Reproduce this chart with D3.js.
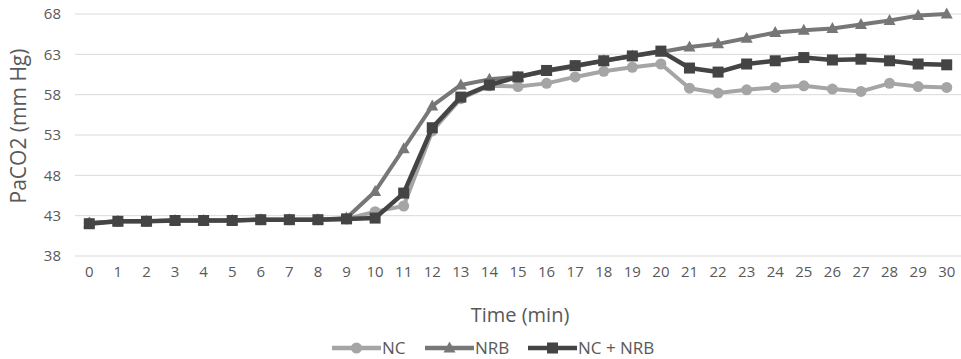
<!DOCTYPE html>
<html><head><meta charset="utf-8">
<script src="https://cdn.jsdelivr.net/npm/d3@7"></script>
<style>body{margin:0;background:#fff;}svg{display:block;font-family:"Open Sans",sans-serif;}</style>
</head><body><svg id="c" width="961" height="359"></svg>
<script>
const times = d3.range(0,31).map(String);
const yTicks = [38,43,48,53,58,63,68];
const seriesNames = ["NC","NRB","NC + NRB"];
const ncValues = [42.1,42.3,42.3,42.4,42.4,42.4,42.5,42.5,42.5,42.6,43.5,44.2,53.5,57.5,59.1,59.0,59.4,60.2,60.9,61.4,61.8,58.8,58.2,58.6,58.9,59.1,58.7,58.4,59.4,59.0,58.9];
const nrbValues = [42.1,42.3,42.3,42.4,42.4,42.4,42.5,42.5,42.5,42.7,46.0,51.3,56.6,59.2,59.9,60.2,60.9,61.5,62.2,62.8,63.3,63.9,64.3,65.0,65.7,66.0,66.2,66.7,67.2,67.8,68.0];
const ncNrbValues = [42.0,42.3,42.3,42.4,42.4,42.4,42.5,42.5,42.5,42.6,42.7,45.8,53.9,57.7,59.2,60.2,61.0,61.6,62.2,62.8,63.4,61.3,60.8,61.8,62.2,62.6,62.3,62.4,62.2,61.8,61.7];
const colors = ["#a5a5a5","#777777","#444444"];
const shapes = ["circle","triangle","square"];

const svg = d3.select("#c");
const x = d3.scaleBand().domain(times).range([75,961]);
const y = d3.scaleLinear().domain([38,68]).range([256,14]);
const cx = d => x(d)+x.bandwidth()/2;

// gridlines
svg.append("g").selectAll("line").data(yTicks).join("line")
  .attr("x1",75).attr("x2",961).attr("y1",d=>y(d)).attr("y2",d=>y(d))
  .attr("stroke","#d9d9d9").attr("stroke-width",1);

// y axis labels
const ya = svg.append("g").attr("transform","translate(75,0)")
  .call(d3.axisLeft(y).tickValues(yTicks).tickSize(0).tickPadding(14));
ya.select(".domain").remove();
ya.selectAll("text").attr("fill","#595959").style("font-size","15px").style("font-family","'Open Sans',sans-serif");

// x axis labels
const xa = svg.append("g").attr("transform","translate(0,256)")
  .call(d3.axisBottom(x).tickSize(0).tickPadding(10));
xa.select(".domain").remove();
xa.selectAll("text").attr("fill","#595959").style("font-size","15px").style("font-family","'Open Sans',sans-serif");

// titles
svg.append("text").attr("x",520).attr("y",322).attr("text-anchor","middle")
  .attr("fill","#595959").style("font-size","20px").text("Time (min)");
svg.append("text").attr("transform","translate(26,126) rotate(-90)").attr("text-anchor","middle")
  .attr("fill","#595959").style("font-size","21px").text("PaCO2 (mm Hg)");

function drawMarker(g, shape, px, py, color, s){
  if(shape==="circle") g.append("circle").attr("cx",px).attr("cy",py).attr("r",5.5*s).attr("fill",color);
  else if(shape==="square") g.append("rect").attr("x",px-5.5*s).attr("y",py-5.5*s).attr("width",11*s).attr("height",11*s).attr("fill",color);
  else g.append("path").attr("d",`M${px},${py-6.5*s}L${px+6*s},${py+4.5*s}L${px-6*s},${py+4.5*s}Z`).attr("fill",color);
}

const allSeries = [ncValues, nrbValues, ncNrbValues];
const widths = [4,4,4.5];
const line = d3.line().x((d,i)=>cx(times[i])).y(d=>y(d));
allSeries.forEach((vals,k)=>{
  const g = svg.append("g");
  g.append("path").datum(vals).attr("d",line).attr("fill","none")
    .attr("stroke",colors[k]).attr("stroke-width",widths[k]).attr("stroke-linejoin","round");
  vals.forEach((v,i)=>drawMarker(g, shapes[k], cx(times[i]), y(v), colors[k], 1));
});

// legend
const legX = [332, 425, 528];
seriesNames.forEach((n,k)=>{
  const g = svg.append("g");
  const ly = 348;
  g.append("line").attr("x1",legX[k]).attr("x2",legX[k]+49).attr("y1",ly).attr("y2",ly)
    .attr("stroke",colors[k]).attr("stroke-width",4.5);
  drawMarker(g, shapes[k], legX[k]+24.5, ly, colors[k], 1);
  g.append("text").attr("x",legX[k]+50).attr("y",ly+6).attr("fill","#595959")
    .style("font-size","17px").text(n);
});
</script></body></html>
